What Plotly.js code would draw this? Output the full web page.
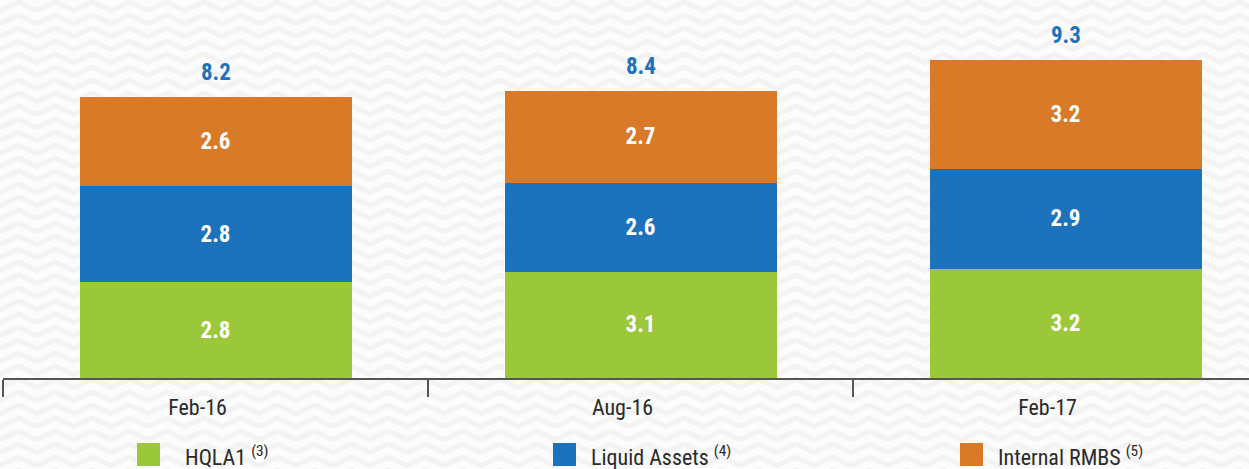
<!DOCTYPE html>
<html>
<head>
<meta charset="utf-8">
<script src="https://cdn.plot.ly/plotly-3.0.1.min.js"></script>
<style>
  html, body { margin: 0; padding: 0; width: 1249px; height: 469px; overflow: hidden; }
  body {
    background-color: #fcfcfc;
    background-image: url("data:image/svg+xml;utf8,<svg xmlns='http://www.w3.org/2000/svg' width='37' height='13'><polyline points='-1,11 18.5,2 38,11' fill='none' stroke='%23f3f3f3' stroke-width='5'/></svg>");
    background-size: 37px 13px;
  }
  #chart { width: 1249px; height: 469px; }
</style>
</head>
<body>
<div id="chart"></div>
<script>
const categories = ["Feb-16", "Aug-16", "Feb-17"];
const hqla1 = [2.8, 3.1, 3.2];
const liquidAssets = [2.8, 2.6, 2.9];
const internalRmbs = [2.6, 2.7, 3.2];
const seriesNames = ["HQLA1", "Liquid Assets", "Internal RMBS"];
const seriesNotes = ["(3)", "(4)", "(5)"];
const colors = ["#9bc83b", "#1c72bb", "#d97a29"];
const totals = categories.map((c, i) => +(hqla1[i] + liquidAssets[i] + internalRmbs[i]).toFixed(1));

const W = 1249, H = 469;
const M = {l: 3, r: 0, t: 0, b: 91};
const pw = W - M.l - M.r, ph = H - M.t - M.b;
const px = x => (x - M.l) / pw;
const py = y => (H - M.b - y) / ph;
const unitPx = 425;

const barFont = {family: "'Liberation Sans Narrow', 'Roboto Condensed', 'Arial Narrow', sans-serif", size: 23, color: "#ffffff", weight: "bold"};
const labelFont = {family: "'Liberation Sans Narrow', 'Roboto Condensed', 'Arial Narrow', sans-serif", size: 22, color: "#2a2a2a", weight: "normal"};

const series = [hqla1, liquidAssets, internalRmbs];
const traces = series.map((vals, k) => ({
  type: "bar",
  x: categories,
  y: vals,
  name: seriesNames[k],
  marker: {color: colors[k], line: {width: 0}},
  width: 0.64,
  texttemplate: "%{y:.1f}",
  textposition: "inside",
  insidetextanchor: "middle",
  textfont: barFont,
  hoverinfo: "none",
  showlegend: false
}));

const annotations = categories.map((c, i) => ({
  x: c, y: totals[i], xref: "x", yref: "y",
  text: "<b>" + totals[i].toFixed(1) + "</b>",
  showarrow: false, yanchor: "bottom", yshift: 9,
  font: {family: barFont.family, size: 23, color: "#1c72bb"}
}));

const legendSquareX = [137, 553, 960];
const legendTextX = [183, 589, 996];
const shapes = [];
seriesNames.forEach((n, k) => {
  shapes.push({
    type: "rect", xref: "paper", yref: "paper",
    x0: px(legendSquareX[k]), x1: px(legendSquareX[k] + 23),
    y0: py(466), y1: py(443),
    fillcolor: colors[k], line: {width: 0}
  });
  annotations.push({
    xref: "paper", yref: "paper",
    x: px(legendTextX[k]), y: py(456),
    xanchor: "left", yanchor: "middle", showarrow: false,
    text: n + " <sup>" + seriesNotes[k] + "</sup>",
    font: labelFont
  });
});

const layout = {
  width: W, height: H,
  margin: M,
  paper_bgcolor: "rgba(0,0,0,0)",
  plot_bgcolor: "rgba(0,0,0,0)",
  barmode: "stack",
  showlegend: false,
  xaxis: {
    type: "category",
    range: [-0.5, -0.5 + pw / unitPx],
    tickson: "boundaries",
    ticks: "outside", ticklen: 17, tickwidth: 1.5, tickcolor: "#555555",
    showline: true, linecolor: "#555555", linewidth: 2,
    showgrid: false, zeroline: false,
    tickfont: labelFont,
    ticklabelshift: -18,
    ticklabelstandoff: 9,
    fixedrange: true
  },
  yaxis: {
    range: [0, 11.05],
    visible: false, showgrid: false, zeroline: false, fixedrange: true
  },
  annotations: annotations,
  shapes: shapes
};

Plotly.newPlot("chart", traces, layout, {displayModeBar: false, staticPlot: true});
</script>
</body>
</html>
